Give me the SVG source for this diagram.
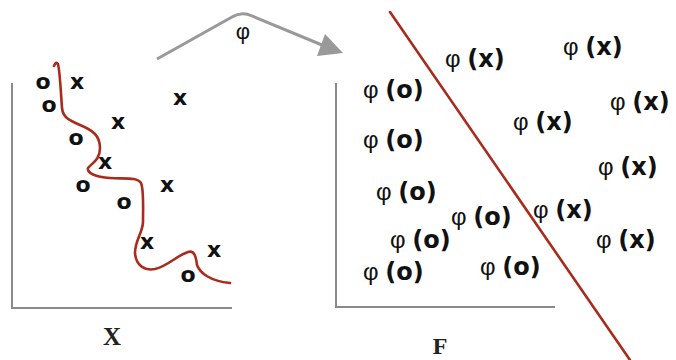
<svg xmlns="http://www.w3.org/2000/svg" width="676" height="360" viewBox="0 0 676 360">
<style>
.axis{fill:none;stroke:#8a8a8a;stroke-width:2}
.red{fill:none;stroke:#a82b1c;stroke-width:2.6;stroke-linecap:round;stroke-linejoin:round}
.pt{font-family:"DejaVu Sans",sans-serif;font-weight:bold;font-size:22px;fill:#111;text-anchor:middle}
.ph{font-family:"Liberation Sans",sans-serif;font-size:24px;fill:#111}
.ph .b{font-family:"DejaVu Sans",sans-serif;font-weight:bold;font-size:24px}
.lab{font-family:"Liberation Serif",serif;font-weight:bold;fill:#222;text-anchor:middle}
</style>
<rect width="676" height="360" fill="#fff"/>

<g id="axes-X">
<path class="axis" d="M12,83 L12,308 L232,308"/>
<text class="lab" x="112" y="345" font-size="25">X</text>
</g>
<g id="axes-F">
<path class="axis" d="M336,83 L336,307 L555,307"/>
<text class="lab" x="440" y="354" font-size="24">F</text>
</g>

<g id="connectors">
<path d="M157,59 L232,17 Q242,11 252,16 L322,45" fill="none" stroke="#999" stroke-width="3"/>
<path d="M343,53 L317,56 L325,34 Z" fill="#999"/>
<text x="243" y="39" text-anchor="middle" style="font-family:'Liberation Sans',sans-serif;font-size:22px;fill:#111">φ</text>
</g>

<g id="boundary-X">
<path class="red" d="M54,66 Q56,61 58,64 C60,72 61,95 62,108 C63,117 68,120 80,125 C92,130 100,135 100,148 C100,160 92,163 88,168 C87,173 95,177 110,178 C125,179 137,177 141,183 C144,190 143,210 143,222 C143,232 135,240 135,253 C136,266 145,271 155,269 C168,266 176,256 188,252 C194,250 196,256 197,265 C200,273 210,281 230,283"/>
</g>

<g id="points-X">
<text class="pt" x="43" y="89">o</text>
<text class="pt" x="77" y="89">x</text>
<text class="pt" x="49" y="112">o</text>
<text class="pt" x="180" y="105">x</text>
<text class="pt" x="118" y="129">x</text>
<text class="pt" x="76" y="145">o</text>
<text class="pt" x="105" y="169">x</text>
<text class="pt" x="83" y="192">o</text>
<text class="pt" x="167" y="192">x</text>
<text class="pt" x="124" y="209">o</text>
<text class="pt" x="147" y="249">x</text>
<text class="pt" x="214" y="257">x</text>
<text class="pt" x="188" y="282">o</text>
</g>

<g id="boundary-F">
<line class="red" x1="390" y1="12" x2="630" y2="360"/>
</g>

<g id="points-F">
<text class="ph" x="445" y="67">φ <tspan class="b">(x)</tspan></text>
<text class="ph" x="563" y="55">φ <tspan class="b">(x)</tspan></text>
<text class="ph" x="363" y="98">φ <tspan class="b">(o)</tspan></text>
<text class="ph" x="610" y="110">φ <tspan class="b">(x)</tspan></text>
<text class="ph" x="513" y="130">φ <tspan class="b">(x)</tspan></text>
<text class="ph" x="363" y="148">φ <tspan class="b">(o)</tspan></text>
<text class="ph" x="598" y="175">φ <tspan class="b">(x)</tspan></text>
<text class="ph" x="376" y="200">φ <tspan class="b">(o)</tspan></text>
<text class="ph" x="451" y="225">φ <tspan class="b">(o)</tspan></text>
<text class="ph" x="533" y="218">φ <tspan class="b">(x)</tspan></text>
<text class="ph" x="390" y="248">φ <tspan class="b">(o)</tspan></text>
<text class="ph" x="596" y="248">φ <tspan class="b">(x)</tspan></text>
<text class="ph" x="363" y="280">φ <tspan class="b">(o)</tspan></text>
<text class="ph" x="480" y="275">φ <tspan class="b">(o)</tspan></text>
</g>
</svg>
